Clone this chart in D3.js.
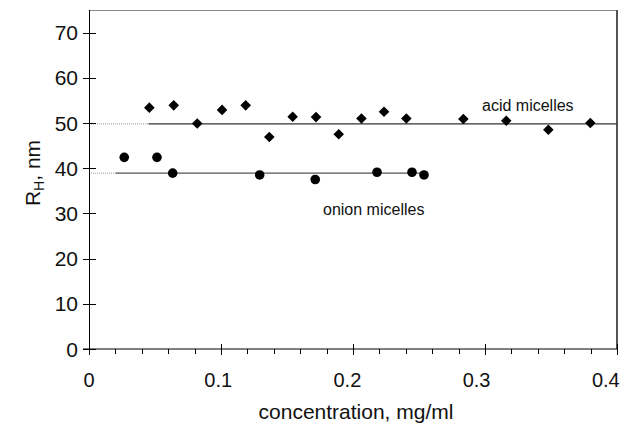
<!DOCTYPE html>
<html><head><meta charset="utf-8">
<script src="https://cdn.jsdelivr.net/npm/d3@7/dist/d3.min.js"></script>
<style>body{margin:0;background:#fff}svg{display:block}text{font-family:Arial,"Liberation Sans",sans-serif;fill:#111}</style>
</head><body>
<script>
const acidX = [0.0457,0.0642,0.082,0.1008,0.1187,0.1366,0.1543,0.172,0.1892,0.2064,0.2235,0.2404,0.2836,0.3161,0.348,0.3798];
const acidY = [53.4,53.9,49.9,52.9,53.9,46.9,51.4,51.3,47.5,51.0,52.5,51.0,50.9,50.5,48.5,50.0];
const onionX = [0.0267,0.0515,0.0634,0.1293,0.1714,0.2182,0.2447,0.2538];
const onionY = [42.4,42.4,38.9,38.5,37.5,39.1,39.1,38.5];
const acidMean = 49.8, onionMean = 38.9;
const xTicks = [0,0.1,0.2,0.3,0.4];
const yTicks = [0,10,20,30,40,50,60,70];

const W=634,H=424;
const svg=d3.select("body").append("svg").attr("width",W).attr("height",H);
const x=d3.scaleLinear().domain([0,0.4]).range([89,617]);
const y=d3.scaleLinear().domain([0,75]).range([349,10]);

// frame top and right
svg.append("line").attr("x1",89).attr("x2",617).attr("y1",10.5).attr("y2",10.5).attr("stroke","#888").attr("stroke-width",1);
svg.append("line").attr("x1",617).attr("x2",617).attr("y1",10).attr("y2",349).attr("stroke","#555").attr("stroke-width",2);

// mean lines
svg.append("line").attr("x1",x(0)).attr("x2",x(0.045)).attr("y1",y(acidMean)).attr("y2",y(acidMean)).attr("stroke","#999").attr("stroke-width",1).attr("stroke-dasharray","1,1");
svg.append("line").attr("x1",x(0.045)).attr("x2",x(0.4)).attr("y1",y(acidMean)).attr("y2",y(acidMean)).attr("stroke","#333").attr("stroke-width",1.2);
svg.append("line").attr("x1",x(0)).attr("x2",x(0.02)).attr("y1",y(onionMean)).attr("y2",y(onionMean)).attr("stroke","#999").attr("stroke-width",1).attr("stroke-dasharray","1,1");
svg.append("line").attr("x1",x(0.02)).attr("x2",x(0.2538)).attr("y1",y(onionMean)).attr("y2",y(onionMean)).attr("stroke","#555").attr("stroke-width",1.2);

// x axis
const gx=svg.append("g").attr("transform","translate(0,349)");
gx.append("line").attr("x1",83).attr("x2",617).attr("stroke","#000");
d3.range(0,0.4001,0.02).forEach(v=>{
  const major = Math.abs(v*10-Math.round(v*10))<1e-6;
  gx.append("line").attr("x1",Math.round(x(v))+0.5).attr("x2",Math.round(x(v))+0.5)
    .attr("y1",major?-5:0).attr("y2",major?6:5).attr("stroke","#000");
});
gx.selectAll("text.t").data(xTicks).join("text").attr("class","t")
  .attr("x",d=>x(d)).attr("dx",d=>-d*28).attr("y",38).attr("text-anchor","middle").attr("font-size",20)
  .text(d=>d===0?"0":d3.format(".1f")(d));
svg.append("text").attr("x",356).attr("y",419).attr("text-anchor","middle").attr("font-size",21).text("concentration, mg/ml");

// y axis
const gy=svg.append("g");
gy.append("line").attr("x1",89.5).attr("x2",89.5).attr("y1",10).attr("y2",355).attr("stroke","#000");
yTicks.forEach(v=>{
  gy.append("line").attr("x1",83).attr("x2",96).attr("y1",Math.round(y(v))+0.5).attr("y2",Math.round(y(v))+0.5).attr("stroke","#000");
});
gy.selectAll("text").data(yTicks).join("text")
  .attr("x",78).attr("y",d=>y(d)).attr("dy","0.36em").attr("text-anchor","end").attr("font-size",21).text(d=>d);
const yl=svg.append("text").attr("transform","translate(40,173) rotate(-90)").attr("text-anchor","middle").attr("font-size",21);
yl.append("tspan").text("R");
yl.append("tspan").attr("font-size",14).attr("dy",4).text("H");
yl.append("tspan").attr("dy",-4).text(", nm");

// markers
svg.selectAll("path.acid").data(acidX.map((d,i)=>[d,acidY[i]])).join("path").attr("class","acid")
  .attr("d",d3.symbol(d3.symbolSquare,56))
  .attr("transform",d=>`translate(${x(d[0])},${y(d[1])}) rotate(45)`).attr("fill","#000");
svg.selectAll("circle.onion").data(onionX.map((d,i)=>[d,onionY[i]])).join("circle").attr("class","onion")
  .attr("cx",d=>x(d[0])).attr("cy",d=>y(d[1])).attr("r",4.8).attr("fill","#000");

// annotations
svg.append("text").attr("x",482).attr("y",111).attr("font-size",16).text("acid micelles");
svg.append("text").attr("x",323).attr("y",215).attr("font-size",16).text("onion micelles");
</script>
</body></html>
